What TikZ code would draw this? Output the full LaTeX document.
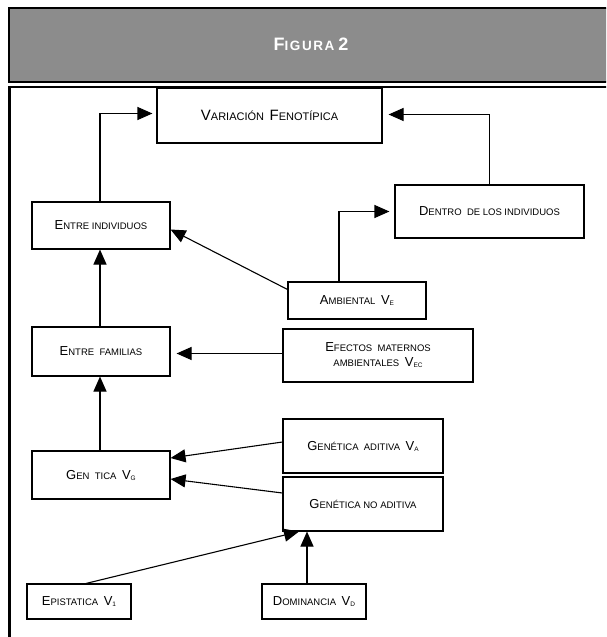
\documentclass[tikz,border=0pt]{standalone}
\usepackage{fontspec}
\setmainfont{Liberation Sans}
\usetikzlibrary{arrows.meta}
\newcommand{\scbig}[1]{{\fontsize{13}{15}\selectfont #1}}
\newcommand{\scsm}[1]{{\fontsize{9.5}{11}\selectfont #1}}
\newcommand{\varv}[1]{\scbig{V}\raisebox{-1pt}{\fontsize{6.5}{7}\selectfont #1}}
\definecolor{hdrgray}{RGB}{140,140,140}
\begin{document}
\begin{tikzpicture}[x=1pt,y=-1pt,
  box/.style={draw, line width=1.1pt, rectangle, inner sep=0pt, align=center},
  arr/.style={line width=1.1pt, -{Triangle[length=15pt,width=13pt]}},
  hdr/.style={draw, fill=hdrgray, line width=2pt, inner sep=0pt, text=white}]
\useasboundingbox (0,0) rectangle (606,637);
\clip (0,0) rectangle (606,637);
% header
\node[hdr, minimum width=604pt, minimum height=74.5pt] (title) at (311,44.75)
  {\bfseries\addfontfeature{LetterSpace=12}{\fontsize{18}{20}\selectfont F}{\fontsize{13.5}{15}\selectfont IGURA} {\fontsize{18}{20}\selectfont 2}};
% frame
\draw[line width=2.5pt] (9.5,660) -- (9.5,86.8) -- (640,86.8);
% boxes
\node[box, minimum width=225pt, minimum height=55pt] (vf) at (269.5,115.5)
  {{\fontsize{15}{17}\selectfont V}{\fontsize{11}{13}\selectfont ARIACIÓN} \ {\fontsize{15}{17}\selectfont F}{\fontsize{11}{13}\selectfont ENOTÍPICA}};
\node[box, minimum width=138pt, minimum height=47pt] (ei) at (101,225.5)
  {\scbig{E}\scsm{NTRE INDIVIDUOS}};
\node[box, minimum width=189pt, minimum height=53pt] (di) at (489.5,211.5)
  {\scbig{D}\scsm{ENTRO \ DE LOS INDIVIDUOS}};
\node[box, minimum width=138pt, minimum height=37pt] (amb) at (357,300.5)
  {\scbig{A}\scsm{MBIENTAL} \ \varv{E}};
\node[box, minimum width=190pt, minimum height=53pt] (em) at (378,355.5)
  {\scbig{E}\scsm{FECTOS \ MATERNOS}\\[3pt] \scsm{AMBIENTALES} \ \varv{EC}};
\node[box, minimum width=138pt, minimum height=49pt] (ef) at (101,351.5)
  {\scbig{E}\scsm{NTRE \ FAMILIAS}};
\node[box, minimum width=138pt, minimum height=48pt] (gv) at (101,475)
  {\scbig{G}\scsm{EN \ TICA} \ \varv{G}};
\node[box, minimum width=160pt, minimum height=54pt] (ga) at (363,446)
  {\scbig{G}\scsm{ENÉTICA \ ADITIVA} \ \varv{A}};
\node[box, minimum width=160pt, minimum height=54pt] (gna) at (363,504)
  {\scbig{G}\scsm{ENÉTICA NO ADITIVA}};
\node[box, minimum width=104pt, minimum height=35pt] (ep) at (79,601.5)
  {\scbig{E}\scsm{PISTATICA} \ \varv{1}};
\node[box, minimum width=104pt, minimum height=35pt] (dom) at (314,601.5)
  {\scbig{D}\scsm{OMINANCIA} \ \varv{D}};
% connectors
\draw[arr, shorten >=4pt] ([xshift=-1pt]ei.north) |- ([yshift=2pt]vf.west);
\draw[arr, shorten >=6pt] (di.north) |- ([yshift=1pt]vf.east);
\draw[arr, shorten >=5pt] ([xshift=-18pt]amb.north) |- (di.west);
\draw[arr] ([yshift=-8pt]amb.north west) -- ([yshift=-4pt]ei.east);
\draw[arr, shorten >=6pt] ([yshift=2pt]em.west) -- ([yshift=2pt]em.west -| ef.east);
\draw[arr] ([xshift=-1pt]ef.north) -- ([xshift=-1pt]ei.south);
\draw[arr] ([xshift=-1pt]gv.north) -- ([xshift=-1pt]ef.south);
\draw[arr] ([yshift=4pt]ga.west) -- ([yshift=17pt]gv.east);
\draw[arr] ([yshift=11pt]gna.west) -- ([yshift=-4pt]gv.east);
\draw[arr] ([xshift=-7pt]dom.north) -- ([xshift=-56pt]gna.south);
\draw[arr] ([xshift=7pt]ep.north) -- ([xshift=-64pt]gna.south);
\end{tikzpicture}
\end{document}
